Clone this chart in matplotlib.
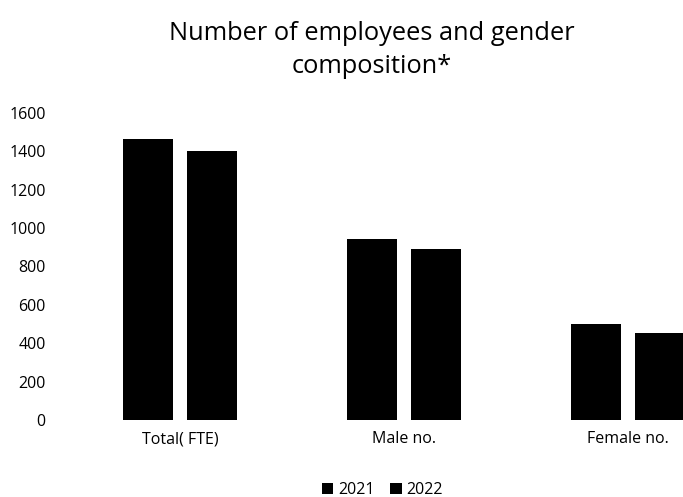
import matplotlib
matplotlib.use('Agg')
import matplotlib.pyplot as plt
import numpy as np

plt.rcParams['font.family'] = ['Open Sans', 'DejaVu Sans']

categories = ['Total( FTE)', 'Male no.', 'Female no.']
years = ['2021', '2022']
values_2021 = [1464, 943, 500]
values_2022 = [1401, 889, 455]

fig = plt.figure(figsize=(6.83, 4.97), dpi=100)
ax = fig.add_axes([0.0996, 0.155, 0.9004, 0.6177])

x = np.arange(len(categories))
w = 0.223
off = 0.143
b1 = ax.bar(x - off, values_2021, w, color='black', label=years[0])
b2 = ax.bar(x + off, values_2022, w, color='black', label=years[1])

ax.set_xlim(-0.5, 2.245)
ax.set_ylim(0, 1600)
ax.set_yticks(range(0, 1601, 200))
ax.set_xticks(x)
ax.set_xticklabels(categories, fontsize=11.5)
ax.tick_params(axis='y', labelsize=11.5, length=0, pad=16)
ax.tick_params(axis='x', length=0, pad=8)
for s in ax.spines.values():
    s.set_visible(False)

fig.text(0.545, 0.899, 'Number of employees and gender\ncomposition*', ha='center', va='center',
         fontsize=18.3, linespacing=1.45)

fig.legend(handles=[b1, b2], labels=years, loc='center', bbox_to_anchor=(0.56, 0.014),
           ncol=2, frameon=False, fontsize=11.5, handlelength=0.7, handleheight=0.7,
           handletextpad=0.3, columnspacing=1.0)

fig.savefig('out.png', dpi=100)
